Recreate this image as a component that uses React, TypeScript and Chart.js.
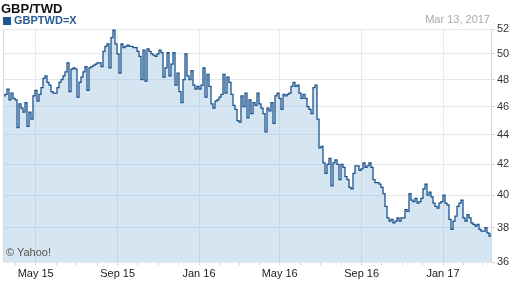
import React, { useEffect, useRef } from "react";
import { Chart, registerables } from "chart.js";

Chart.register(...registerables);

const START_DATE = "2015-03-13";
const STEP_DAYS = 3;
const X_MAX_DAYS = 732;

const rates: number[] = [
  46.8, 46.9, 47.3, 46.5, 47.0, 46.6, 46.5, 44.5, 46.2, 45.9,
  45.6, 46.3, 44.6, 45.6, 45.1, 46.8, 47.2, 46.4, 46.9, 47.4,
  48.1, 48.3, 47.8, 47.6, 47.1, 47.0, 47.0, 47.4, 47.8, 48.0,
  48.3, 48.6, 49.3, 47.1, 48.8, 48.9, 48.8, 46.7, 47.8, 48.2,
  48.6, 49.0, 47.2, 48.9, 49.0, 49.1, 49.2, 49.3, 49.3, 49.0,
  50.2, 50.6, 50.8, 48.9, 51.3, 51.9, 50.8, 50.0, 48.5, 50.8,
  50.5, 50.6, 50.7, 50.6, 50.6, 50.5, 50.5, 50.2, 49.8, 48.0,
  50.3, 47.9, 50.4, 50.2, 50.0, 49.9, 49.8, 50.0, 50.3, 50.1,
  48.2, 48.9, 50.1, 48.3, 49.2, 50.1, 47.6, 48.5, 47.1, 46.3,
  48.0, 50.0, 48.3, 48.0, 48.7, 47.6, 47.3, 47.5, 47.3, 47.6,
  48.9, 46.7, 48.4, 47.5, 46.2, 45.9, 46.4, 46.5, 46.7, 46.9,
  48.4, 47.0, 48.2, 47.8, 46.9, 46.1, 45.8, 45.0, 44.9, 46.8,
  46.0, 47.0, 45.2, 46.5, 45.5, 46.3, 46.1, 47.0, 46.2, 45.9,
  45.5, 44.2, 45.9, 45.7, 46.3, 44.8, 46.8, 47.0, 46.6, 45.8,
  46.9, 46.8, 46.9, 47.0, 47.5, 47.8, 47.5, 47.6, 47.0, 46.6,
  46.9, 46.6, 46.0, 45.8, 45.5, 47.4, 47.6, 45.1, 43.1, 43.2,
  42.1, 41.4, 42.0, 42.4, 40.6, 42.1, 42.3, 42.0, 41.0, 42.0,
  41.8, 41.2, 41.0, 40.5, 40.4, 41.4, 41.9, 41.9, 41.6, 41.7,
  42.1, 41.8, 41.9, 42.1, 41.8, 41.0, 40.8, 40.8, 40.7, 40.5,
  40.1, 39.3, 38.6, 38.4, 38.5, 38.3, 38.4, 38.6, 38.4, 38.6,
  38.6, 39.1, 39.0, 40.1, 39.7, 39.6, 39.8, 39.5, 39.6, 39.8,
  40.4, 40.7, 40.0, 40.2, 39.9, 39.5, 39.3, 39.2, 39.5, 39.6,
  40.0, 39.5, 39.4, 38.5, 37.9, 38.4, 38.7, 39.3, 39.5, 39.7,
  38.6, 38.4, 38.8, 38.6, 38.3, 38.2, 38.1, 38.2, 37.9, 37.8,
  37.8, 38.0, 37.7, 37.5, 37.7,
];

const monthTickDates: string[] = [
  "2015-04-01", "2015-05-01", "2015-06-01", "2015-07-01", "2015-08-01", "2015-09-01",
  "2015-10-01", "2015-11-01", "2015-12-01", "2016-01-01", "2016-02-01", "2016-03-01",
  "2016-04-01", "2016-05-01", "2016-06-01", "2016-07-01", "2016-08-01", "2016-09-01",
  "2016-10-01", "2016-11-01", "2016-12-01", "2017-01-01", "2017-02-01", "2017-03-01",
];
const labelDates: string[] = ["2015-05-01", "2015-09-01", "2016-01-01", "2016-05-01", "2016-09-01", "2017-01-01"];
const xLabels: string[] = ["May 15", "Sep 15", "Jan 16", "May 16", "Sep 16", "Jan 17"];
const yTicks: number[] = [36, 38, 40, 42, 44, 46, 48, 50, 52];

const dayOffset = (d: string) => Math.round((Date.parse(d + "T00:00:00Z") - Date.parse(START_DATE + "T00:00:00Z")) / 86400000);
const labelDays = labelDates.map(dayOffset);
const labelFor = (v: number) => {
  const i = labelDays.indexOf(Math.round(v));
  return i >= 0 ? xLabels[i] : "";
};

const FONT = "'Liberation Sans', Arial, Helvetica, sans-serif";

const framePlugin = {
  id: "frame",
  afterDraw(chart: any) {
    const { ctx, chartArea } = chart;
    ctx.save();
    ctx.strokeStyle = "#d8d8d8";
    ctx.lineWidth = 1;
    ctx.beginPath();
    ctx.moveTo(chartArea.left + 0.5, chartArea.top);
    ctx.lineTo(chartArea.left + 0.5, chartArea.bottom);
    ctx.stroke();
    ctx.restore();
  },
};

export default function App() {
  const ref = useRef<HTMLCanvasElement | null>(null);
  useEffect(() => {
    if (!ref.current) return;
    const points = rates.map((v, i) => ({ x: i * STEP_DAYS, y: v }));
    const chart = new Chart(ref.current, {
      type: "line",
      data: {
        datasets: [
          {
            label: "GBPTWD=X",
            data: points,
            borderColor: "#164f8a",
            borderWidth: 1.25,
            backgroundColor: "rgba(124,177,214,0.32)",
            fill: "start",
            pointRadius: 0,
            stepped: true,
            tension: 0,
          },
        ],
      },
      options: {
        animation: false,
        responsive: false,
        devicePixelRatio: 1,
        layout: { padding: { left: 3, top: 29, right: 0, bottom: 0 } },
        plugins: { legend: { display: false }, tooltip: { enabled: false } },
        scales: {
          x: {
            type: "linear",
            min: 0,
            max: X_MAX_DAYS,
            afterBuildTicks: (scale: any) => {
              scale.ticks = monthTickDates.map((d) => ({ value: dayOffset(d) }));
            },
            afterFit: (scale: any) => {
              scale.height = 26;
            },
            grid: {
              color: (c: any) => (c.tick && labelFor(c.tick.value) ? "#e4eaf2" : "rgba(0,0,0,0)"),
              tickColor: "#cfcfcf",
              tickLength: 3,
              drawTicks: true,
            },
            border: { display: false },
            ticks: {
              autoSkip: false,
              maxRotation: 0,
              padding: 2,
              color: "#222",
              font: { family: FONT, size: 11 },
              callback: (v: any) => labelFor(Number(v)),
            },
          },
          y: {
            type: "logarithmic",
            position: "right",
            min: 36,
            max: 52,
            afterBuildTicks: (scale: any) => {
              scale.ticks = yTicks.map((v) => ({ value: v }));
            },
            afterFit: (scale: any) => {
              scale.width = 21;
            },
            grid: { color: "#e4eaf2", tickColor: "#cfcfcf", tickLength: 4 },
            border: { display: true, color: "#d8d8d8" },
            ticks: {
              padding: 2,
              color: "#333",
              font: { family: FONT, size: 11 },
              callback: (v: any) => String(v),
            },
          },
        },
      },
      plugins: [framePlugin],
    });
    return () => chart.destroy();
  }, []);

  return (
    <div style={{ position: "fixed", left: 0, top: 0, width: 512, height: 288, background: "#fff", fontFamily: FONT }}>
      <canvas ref={ref} width={512} height={288} style={{ position: "absolute", left: 0, top: 0, width: 512, height: 288 }} />
      <div style={{ position: "absolute", left: 1, top: 1, fontSize: 13, fontWeight: "bold", color: "#111", lineHeight: "15px" }}>GBP/TWD</div>
      <div style={{ position: "absolute", left: 3, top: 14, fontSize: 11, fontWeight: "bold", color: "#2a5c93", lineHeight: "13px", display: "flex", alignItems: "center" }}>
        <span style={{ display: "inline-block", width: 8, height: 8, background: "#1d5690", marginRight: 3 }} />
        GBPTWD=X
      </div>
      <div style={{ position: "absolute", right: 22, top: 13, fontSize: 11, color: "#a8a8a8", lineHeight: "13px" }}>Mar 13, 2017</div>
      <div style={{ position: "absolute", left: 6, top: 246, fontSize: 11, color: "#555", lineHeight: "13px" }}>© Yahoo!</div>
    </div>
  );
}
